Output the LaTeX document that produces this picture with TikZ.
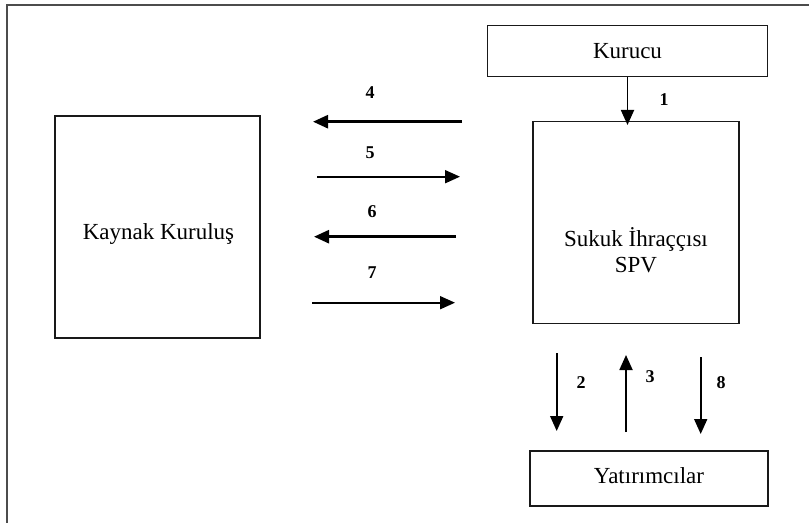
\documentclass[tikz,border=0pt]{standalone}
\usepackage{fontspec}
\setmainfont{Liberation Serif}
\usetikzlibrary{arrows.meta}
\begin{document}
\begin{tikzpicture}[x=1bp,y=-1bp,
  box/.style={draw=black!90,line width=1.5bp,rectangle,inner sep=0pt},
  txt/.style={anchor=base,inner sep=0pt,font=\fontsize{23bp}{26bp}\selectfont},
  num/.style={inner sep=0pt,font=\fontsize{18bp}{20bp}\selectfont\bfseries},
  arr/.style={line width=1.8bp,-{Triangle[length=15bp,width=13bp]}},
  arrthick/.style={line width=2.6bp,-{Triangle[length=15bp,width=13bp]}}]
\useasboundingbox (0,0) rectangle (809,523);
% outer frame (left and top only visible)
\draw[draw=black!70,line width=2bp] (6.7,523) -- (6.7,5) -- (809,5);
% boxes
\node[box,minimum width=280bp,minimum height=51bp] (kur) at (627.5,51.2) {};
\node[box,minimum width=206bp,minimum height=201.5bp] (spv) at (636,222.5) {};
\node[box,minimum width=205bp,minimum height=222bp] (kay) at (157.5,227) {};
\node[box,minimum width=238bp,minimum height=55bp] (yat) at (649,478.5) {};
% texts
\node[txt] (tkur) at (627.5,58.5) {Kurucu};
\node[txt] (tspv1) at (636,247) {Sukuk İhraççısı};
\node[txt] (tspv2) at (636,273) {SPV};
\node[txt] (tkay) at (158.5,240) {Kaynak Kuruluş};
\node[txt] (tyat) at (649,483) {Yatırımcılar};
% free ends of connectors
\coordinate (a4s) at (462,121.7); \coordinate (a4e) at (313,121.7);
\coordinate (a5s) at (317,176.7); \coordinate (a5e) at (460,176.7);
\coordinate (a6s) at (456,236.7); \coordinate (a6e) at (314,236.7);
\coordinate (a7s) at (312,302.7); \coordinate (a7e) at (455,302.7);
\coordinate (a2s) at (556.7,353); \coordinate (a2e) at (556.7,431);
\coordinate (a3s) at (626,432); \coordinate (a3e) at (626,355);
\coordinate (a8s) at (700.7,357); \coordinate (a8e) at (700.7,434);
% connectors
\draw[arr] (kur.south) -- ([yshift=-4bp]kur.south |- spv.north);
\draw[arrthick] (a4s) -- (a4e);
\draw[arr] (a5s) -- (a5e);
\draw[arrthick] (a6s) -- (a6e);
\draw[arr] (a7s) -- (a7e);
\draw[arr] (a2s) -- (a2e);
\draw[arr] (a3s) -- (a3e);
\draw[arr] (a8s) -- (a8e);
% labels
\node[num] (l1) at (664,100) {1};
\node[num] (l4) at (370,92.7) {4};
\node[num] (l5) at (370,153) {5};
\node[num] (l6) at (372,212) {6};
\node[num] (l7) at (372,273) {7};
\node[num] (l2) at (581,383) {2};
\node[num] (l3) at (650,377) {3};
\node[num] (l8) at (721,383) {8};
\end{tikzpicture}
\end{document}
